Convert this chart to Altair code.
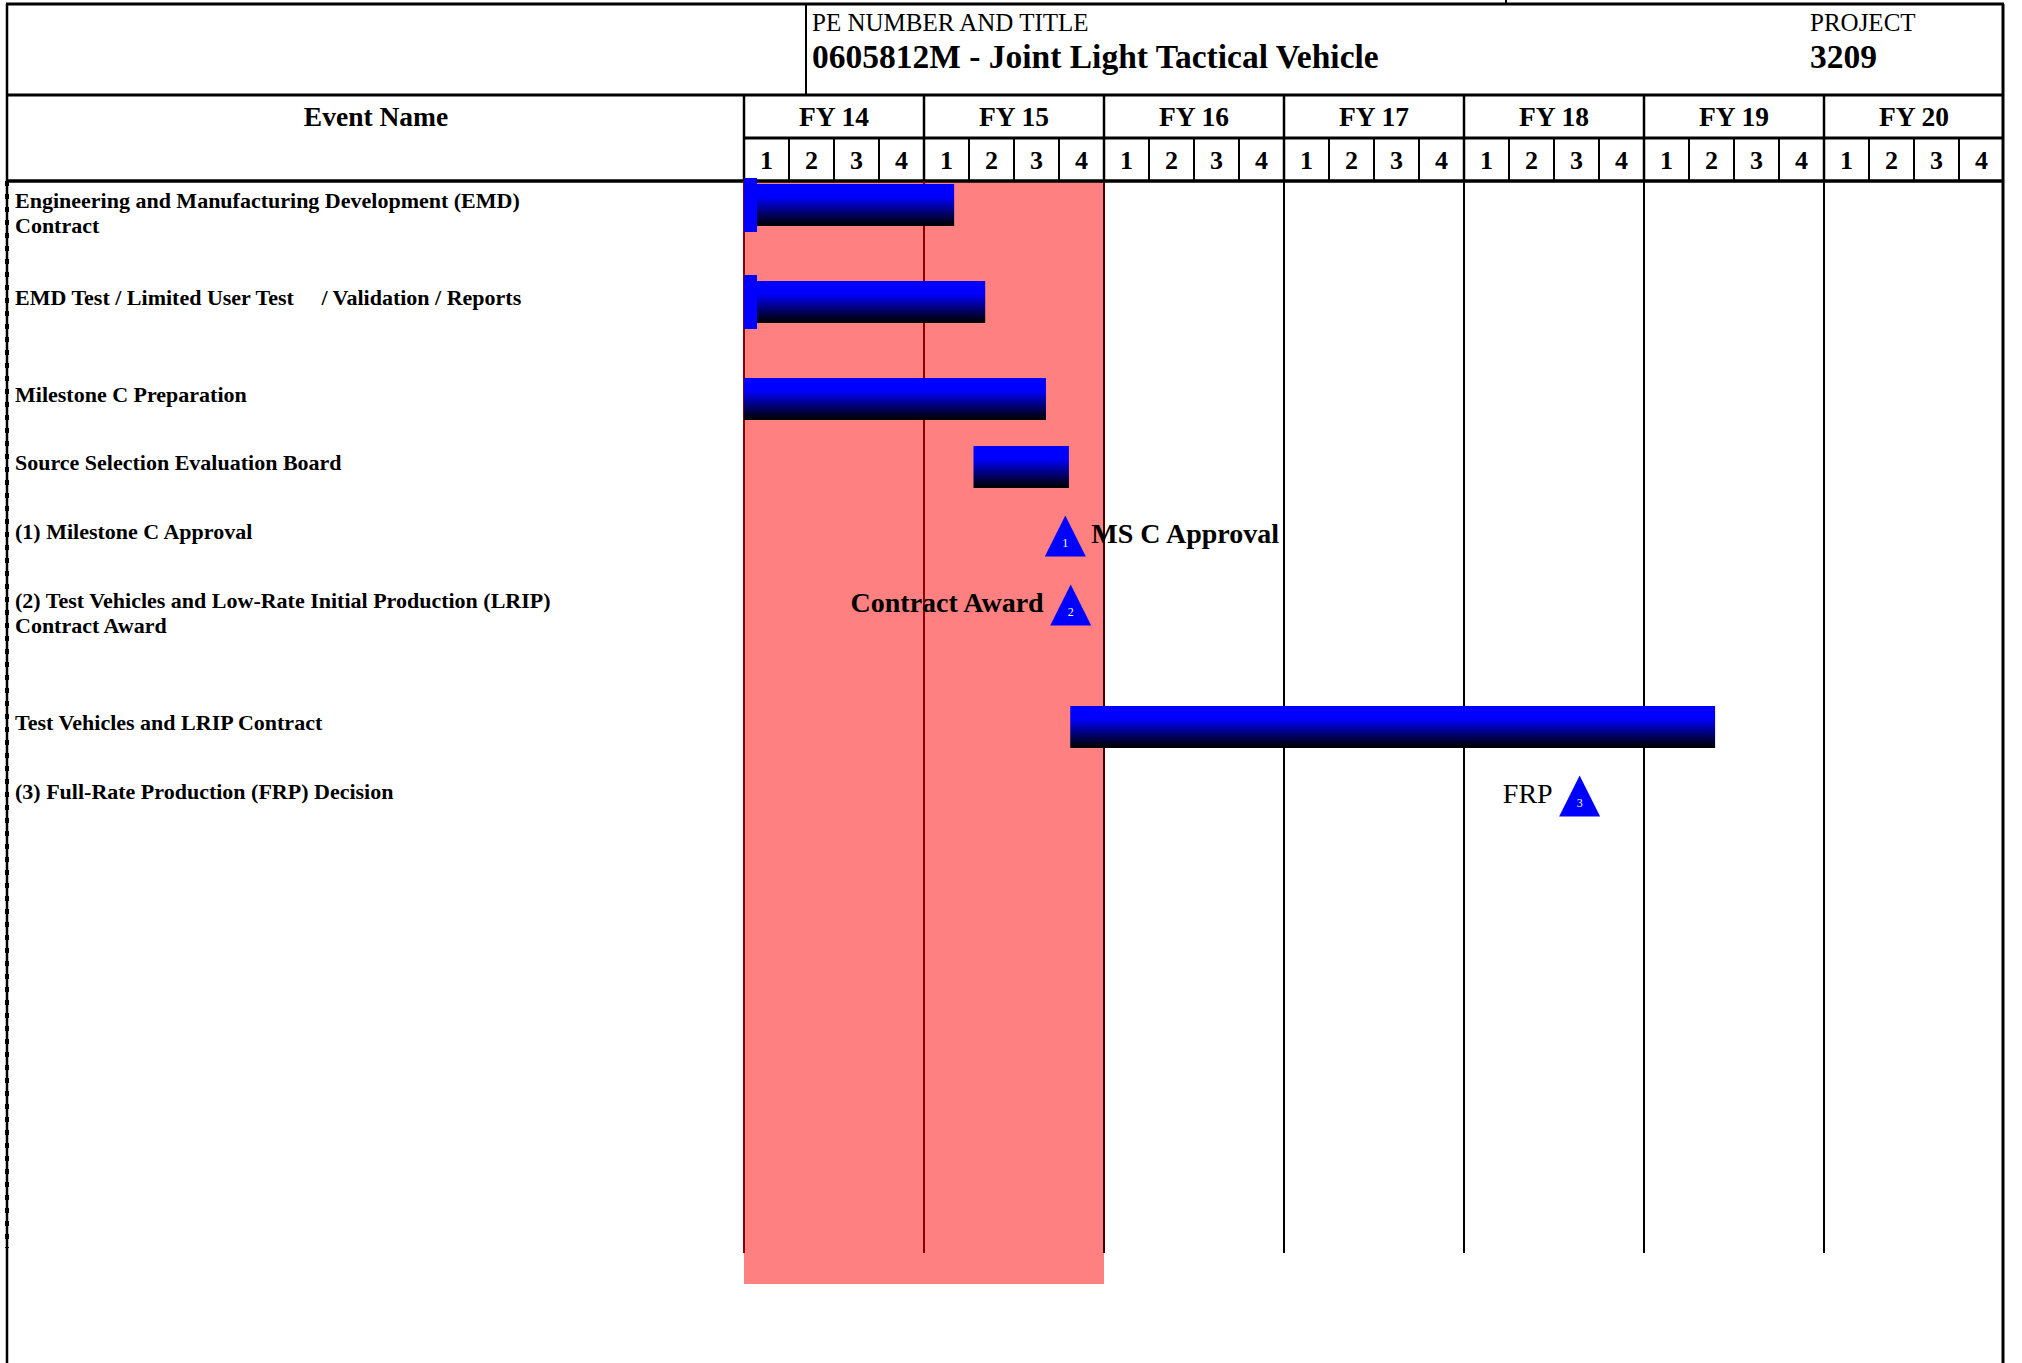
import altair as alt
import pandas as pd

# ---------------- data ----------------
fiscal_years = ["FY 14", "FY 15", "FY 16", "FY 17", "FY 18", "FY 19", "FY 20"]
quarters = ["1", "2", "3", "4"]

event_lines = [
    ["Engineering and Manufacturing Development (EMD)", "Contract"],
    ["EMD Test / Limited User Test\u00a0\u00a0\u00a0\u00a0 / Validation / Reports"],
    ["Milestone C Preparation"],
    ["Source Selection Evaluation Board"],
    ["(1) Milestone C Approval"],
    ["(2) Test Vehicles and Low-Rate Initial Production (LRIP)", "Contract Award"],
    ["Test Vehicles and LRIP Contract"],
    ["(3) Full-Rate Production (FRP) Decision"],
]

# activity bars (start / end in quarters counted from the start of FY 14)
bar_event = [0, 1, 2, 3, 6]
bar_start = [0.0, 0.0, 0.0, 5.1, 7.25]
bar_end = [4.67, 5.36, 6.71, 7.22, 21.58]
bar_has_start_marker = [True, True, False, False, False]

# milestones
ms_event = [4, 5, 7]
ms_number = ["1", "2", "3"]
ms_pos = [7.14, 7.26, 18.57]
ms_label = ["MS C Approval", "Contract Award", "FRP"]
ms_label_side = ["right", "left", "left"]
ms_label_bold = [True, True, False]

# shaded fiscal years (index range, end exclusive)
shade_fy_from, shade_fy_to = 0, 2

pe_caption = "PE NUMBER AND TITLE"
pe_title = "0605812M - Joint Light Tactical Vehicle"
project_caption = "PROJECT"
project_number = "3209"
column_title = "Event Name"

# ---------------- layout ----------------
W, H = 2022, 1363
X0, QW = 744, 45
n_q = len(fiscal_years) * len(quarters)
X_END = X0 + n_q * QW
TOP, HDR, FYSEP, ROWHDR = 4, 95, 138, 181
GRID_BOTTOM, SHADE_BOTTOM = 1253, 1284
row_center = [205, 302, 399, 467, 536, 605, 727, 796]
BAR_H = 42
FONT = "Liberation Serif"


def px2q(px):
    return (px - X0) / QW


xs = alt.Scale(domain=[px2q(0), px2q(W)], nice=False, zero=False)
ys = alt.Scale(domain=[0, H], reverse=True, nice=False, zero=False)


def X(f):
    return alt.X(f, type="quantitative", scale=xs, axis=None)


def Y(f):
    return alt.Y(f, type="quantitative", scale=ys, axis=None)


# ---- structure lines ----
segs = []


def seg(x1, x2, y1, y2, w, c="#000000"):
    segs.append(dict(x=px2q(x1), x2=px2q(x2), y=y1, y2=y2, w=w, c=c))


seg(6, X_END, TOP, TOP, 3)
seg(1506, 1506, 0, TOP, 2)
seg(7, 7, TOP, H, 2.5)
seg(X_END - 1, X_END - 1, TOP, H, 3)
seg(806, 806, TOP, HDR, 2)
seg(6, X_END, HDR, HDR, 3)
seg(X0, X_END, FYSEP, FYSEP, 3)
seg(6, X_END, ROWHDR, ROWHDR, 3.5)
for k in range(len(fiscal_years)):
    xpx = X0 + k * 4 * QW
    seg(xpx, xpx, HDR, ROWHDR, 2.5)
    if shade_fy_from <= k < shade_fy_to:
        col = "#8b0000"
    elif k == shade_fy_to:
        col = "#3a0000"
    else:
        col = "#000000"
    seg(xpx, xpx, ROWHDR, GRID_BOTTOM, 2, col)
for j in range(n_q):
    if j % 4:
        xpx = X0 + j * QW
        seg(xpx, xpx, FYSEP, ROWHDR, 2)
rules_df = pd.DataFrame(segs)

rules = alt.Chart(rules_df).mark_rule().encode(
    x=X("x"), x2="x2", y=Y("y"), y2="y2",
    color=alt.Color("c:N", scale=None),
    strokeWidth=alt.StrokeWidth("w:Q", scale=None),
)

dash_df = pd.DataFrame([dict(x=px2q(7), x2=px2q(7), y=ROWHDR, y2=GRID_BOTTOM - 5)])
dashed = alt.Chart(dash_df).mark_rule(color="#000000", strokeWidth=4, strokeDash=[5, 8]).encode(
    x=X("x"), x2="x2", y=Y("y"), y2="y2"
)

# ---- shaded region ----
shade_df = pd.DataFrame([dict(x=shade_fy_from * 4, x2=shade_fy_to * 4, y=ROWHDR, y2=SHADE_BOTTOM)])
shade = alt.Chart(shade_df).mark_rect(color="#ff8080").encode(
    x=X("x"), x2="x2", y=Y("y"), y2="y2"
)

# ---- bars ----
bars_df = pd.DataFrame(dict(
    event=bar_event, start=bar_start, end=bar_end, marker=bar_has_start_marker
))
bars_df["c"] = [row_center[e] for e in bars_df["event"]]
bars_df["top"] = bars_df["c"] - BAR_H / 2
bars_df["bot"] = bars_df["c"] + BAR_H / 2
grad = alt.Gradient(
    gradient="linear",
    stops=[
        alt.GradientStop(color="#0000ff", offset=0),
        alt.GradientStop(color="#0000ff", offset=0.3),
        alt.GradientStop(color="#000030", offset=0.85),
        alt.GradientStop(color="#000000", offset=1),
    ],
    x1=0, x2=0, y1=0, y2=1,
)
bars = alt.Chart(bars_df).mark_rect(color=grad).encode(
    x=X("start"), x2="end", y=Y("top"), y2="bot"
)

mk_df = bars_df[bars_df["marker"]].copy()
mk_df["x2"] = mk_df["start"] + 13 / QW
mk_df["top"] = mk_df["c"] - 27
mk_df["bot"] = mk_df["c"] + 27
markers = alt.Chart(mk_df).mark_rect(color="#0000ff").encode(
    x=X("start"), x2="x2", y=Y("top"), y2="bot"
)

# ---- milestones ----
ms_df = pd.DataFrame(dict(
    event=ms_event, num=ms_number, pos=ms_pos, label=ms_label,
    side=ms_label_side, bold=ms_label_bold,
))
ms_df["c"] = [row_center[e] for e in ms_df["event"]]
ms_df["ny"] = ms_df["c"] + 7
ms_df["ly"] = ms_df["c"] - 1
tri = alt.Chart(ms_df).mark_point(
    shape="M0,-1L-1,1L1,1Z", filled=True, size=1681, color="#0000ff", opacity=1, strokeWidth=0
).encode(x=X("pos"), y=Y("c"))
tri_num = alt.Chart(ms_df).mark_text(
    font=FONT, fontSize=12, color="#ffffff", align="center", baseline="middle"
).encode(x=X("pos"), y=Y("ny"), text="num:N")

ms_layers = []
for side in ["right", "left"]:
    for bold in [True, False]:
        sub = ms_df[(ms_df["side"] == side) & (ms_df["bold"] == bold)]
        if len(sub) == 0:
            continue
        ms_layers.append(
            alt.Chart(sub).mark_text(
                font=FONT, fontSize=28, fontWeight="bold" if bold else "normal",
                color="#000000", align="left" if side == "right" else "right",
                baseline="middle", dx=26 if side == "right" else -27,
            ).encode(x=X("pos"), y=Y("ly"), text="label:N")
        )

# ---- texts ----
def text_layer(rows, size, weight, align):
    df = pd.DataFrame(rows)
    return alt.Chart(df).mark_text(
        font=FONT, fontSize=size, fontWeight=weight, align=align,
        baseline="middle", color="#000000",
    ).encode(x=X("x"), y=Y("y"), text="t:N")


hdr_small = text_layer([
    dict(x=px2q(812), y=23, t=pe_caption),
    dict(x=px2q(1810), y=23, t=project_caption),
], 25, "normal", "left")
hdr_big = text_layer([
    dict(x=px2q(812), y=58, t=pe_title),
    dict(x=px2q(1810), y=58, t=project_number),
], 33.5, "bold", "left")

fy_rows = [dict(x=px2q(376), y=118, t=column_title)]
fy_rows += [dict(x=k * 4 + 2, y=118, t=fy) for k, fy in enumerate(fiscal_years)]
fy_text = text_layer(fy_rows, 27.5, "bold", "center")

q_rows = [dict(x=j + 0.5, y=161, t=quarters[j % 4]) for j in range(n_q)]
q_text = text_layer(q_rows, 26, "bold", "center")

lbl_rows = []
for i, lines in enumerate(event_lines):
    for j, line in enumerate(lines):
        lbl_rows.append(dict(x=px2q(15), y=row_center[i] - 4 + j * 25, t=line))
lbl_text = text_layer(lbl_rows, 22, "bold", "left")

chart = alt.layer(
    shade, rules, dashed, bars, markers, tri, tri_num, *ms_layers,
    hdr_small, hdr_big, fy_text, q_text, lbl_text,
).properties(
    width=W, height=H, padding=0, autosize=alt.AutoSizeParams(type="none"),
    background="#ffffff",
).configure_view(stroke=None)

chart.save("out.html", embed_options={"renderer": "svg", "actions": False})
